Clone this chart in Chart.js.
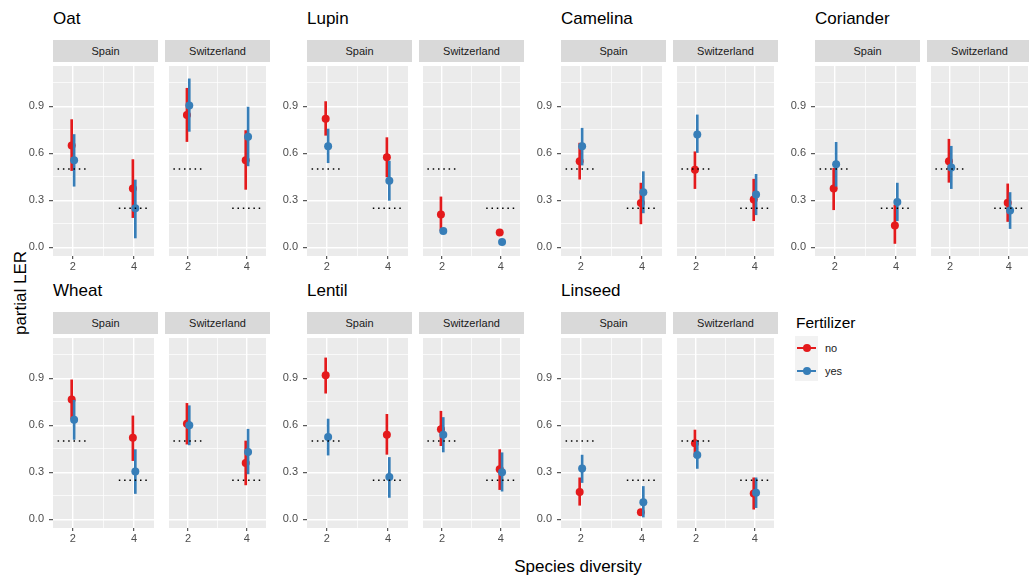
<!DOCTYPE html>
<html>
<head>
<meta charset="utf-8">
<script src="https://cdn.jsdelivr.net/npm/chart.js@4.4.1/dist/chart.umd.min.js"></script>
<style>
  body { margin: 0; background: #fff; font-family: "Liberation Sans", Arial, sans-serif; }
  #fig { position: relative; width: 1029px; height: 576px; overflow: hidden; background: #fff; }
  #fig canvas { position: absolute; }
  .title { position: absolute; font-size: 17px; line-height: 20px; color: #000; }
  .strip { position: absolute; height: 22px; line-height: 22px; background: #d9d9d9;
           color: #1a1a1a; font-size: 11px; text-align: center; }
  .axis-title { position: absolute; font-size: 17px; color: #000; white-space: nowrap; }
  #ytitle { left: 21px; top: 293px; transform: translate(-50%, -50%) rotate(-90deg); }
  #xtitle { left: 578px; top: 567px; transform: translate(-50%, -50%); }
  #legend-title { position: absolute; left: 796px; top: 313px; font-size: 15.5px; line-height: 20px; }
  #legend-keys { position: absolute; left: 795px; top: 336px; width: 23px; height: 45px; background: #f2f2f2; }
  .key-line { position: absolute; left: 2px; width: 19px; height: 2px; }
  .key-dot { position: absolute; left: 8px; width: 8px; height: 8px; border-radius: 50%; }
  .key-label { position: absolute; left: 825px; font-size: 11px; line-height: 14px; color: #1a1a1a; }
</style>
</head>
<body>
<div id="fig">
  <div class="axis-title" id="ytitle">partial LER</div>
  <div class="axis-title" id="xtitle">Species diversity</div>
  <div id="legend-title">Fertilizer</div>
  <div id="legend-keys"></div>
</div>
<script>
const crops = ['Oat', 'Lupin', 'Camelina', 'Coriander', 'Wheat', 'Lentil', 'Linseed'];
const countries = ['Spain', 'Switzerland'];
const diversity = [2, 4];
const expectedLER = [0.5, 0.25]; // dotted reference line for each diversity level
const fertilizer = ['no', 'yes'];

// per crop: [Spain 2, Spain 4, Switzerland 2, Switzerland 4]
const noMean = [
  [0.65, 0.375, 0.845, 0.555],
  [0.82, 0.575, 0.21, 0.095],
  [0.55, 0.283, 0.495, 0.305],
  [0.375, 0.14, 0.55, 0.285],
  [0.765, 0.52, 0.61, 0.36],
  [0.92, 0.54, 0.575, 0.32],
  [0.175, 0.045, 0.485, 0.165]
];
const noLow = [
  [0.49, 0.19, 0.675, 0.37],
  [0.715, 0.45, 0.105, 0.085],
  [0.435, 0.15, 0.375, 0.17],
  [0.24, 0.025, 0.415, 0.165],
  [0.64, 0.375, 0.48, 0.22],
  [0.805, 0.415, 0.47, 0.19],
  [0.09, 0.035, 0.40, 0.065]
];
const noHigh = [
  [0.815, 0.56, 1.015, 0.745],
  [0.93, 0.70, 0.322, 0.105],
  [0.665, 0.41, 0.61, 0.435],
  [0.505, 0.27, 0.69, 0.405],
  [0.89, 0.66, 0.74, 0.50],
  [1.03, 0.67, 0.69, 0.445],
  [0.265, 0.055, 0.57, 0.265]
];
const yesMean = [
  [0.555, 0.25, 0.905, 0.705],
  [0.645, 0.425, 0.104, 0.035],
  [0.645, 0.352, 0.72, 0.337],
  [0.53, 0.29, 0.51, 0.235],
  [0.635, 0.305, 0.60, 0.43],
  [0.525, 0.27, 0.54, 0.30],
  [0.325, 0.11, 0.41, 0.17]
];
const yesLow = [
  [0.39, 0.06, 0.74, 0.52],
  [0.54, 0.30, 0.095, 0.025],
  [0.525, 0.22, 0.605, 0.208],
  [0.39, 0.17, 0.375, 0.12],
  [0.51, 0.165, 0.475, 0.29],
  [0.41, 0.14, 0.43, 0.18],
  [0.235, 0.015, 0.325, 0.075]
];
const yesHigh = [
  [0.72, 0.43, 1.075, 0.895],
  [0.755, 0.55, 0.115, 0.045],
  [0.76, 0.483, 0.845, 0.466],
  [0.67, 0.41, 0.645, 0.35],
  [0.76, 0.445, 0.725, 0.575],
  [0.64, 0.395, 0.65, 0.425],
  [0.41, 0.21, 0.50, 0.265]
];

const xTicks = [2, 3, 4];
const xLabels = ['2', '', '4'];
const yTicks = [0, 0.15, 0.3, 0.45, 0.6, 0.75, 0.9, 1.05];
const yLabels = ['0.0', '', '0.3', '', '0.6', '', '0.9', ''];

const RED = '#E41A1C';
const BLUE = '#377EB8';

// layout of the facet grid
const colLeft = [53, 307, 561, 815];
const rowTop = [62, 334];
const panelW = 105, panelH = 194, facetStep = 112, stripH = 22;
const yAxisW = 40, xAxisH = 20;
const dodge = 0.04;

const fig = document.getElementById('fig');

const panelBg = {
  id: 'panelBg',
  beforeDraw(chart) {
    const { ctx, chartArea: a } = chart;
    ctx.save();
    ctx.fillStyle = '#EBEBEB';
    ctx.fillRect(a.left, a.top, a.right - a.left, a.bottom - a.top);
    ctx.restore();
  }
};

function addDiv(cls, text, left, top, width) {
  const d = document.createElement('div');
  d.className = cls;
  d.textContent = text;
  d.style.left = left + 'px';
  d.style.top = top + 'px';
  if (width) d.style.width = width + 'px';
  fig.appendChild(d);
  return d;
}

function makeFacet(ci, k, left, top, showY) {
  const canvas = document.createElement('canvas');
  const w = panelW + (showY ? yAxisW : 0);
  const h = panelH + xAxisH;
  canvas.width = w;
  canvas.height = h;
  canvas.style.width = w + 'px';
  canvas.style.height = h + 'px';
  canvas.style.left = (left - (showY ? yAxisW : 0)) + 'px';
  canvas.style.top = top + 'px';
  fig.appendChild(canvas);

  const series = [
    { mean: noMean, low: noLow, high: noHigh, color: RED, shift: -dodge },
    { mean: yesMean, low: yesLow, high: yesHigh, color: BLUE, shift: dodge }
  ];

  const datasets = [];
  diversity.forEach((d, j) => {
    datasets.push({
      type: 'line',
      data: [{ x: d - 0.5, y: expectedLER[j] }, { x: d + 0.5, y: expectedLER[j] }],
      borderColor: '#000',
      borderWidth: 1.4,
      borderDash: [1.5, 3.8],
      pointRadius: 0,
      order: 0
    });
  });
  series.forEach((s, si) => {
    datasets.push({
      type: 'bar',
      label: fertilizer[si],
      data: diversity.map((d, j) => ({ x: d + s.shift, y: [s.low[ci][k * 2 + j], s.high[ci][k * 2 + j]] })),
      backgroundColor: s.color,
      borderWidth: 0,
      barThickness: 2,
      maxBarThickness: 2,
      grouped: false,
      order: 4 - si * 2
    });
    datasets.push({
      type: 'scatter',
      label: fertilizer[si],
      data: diversity.map((d, j) => ({ x: d + s.shift, y: s.mean[ci][k * 2 + j] })),
      pointRadius: 4,
      pointHoverRadius: 4,
      pointBackgroundColor: s.color,
      pointBorderWidth: 0,
      order: 3 - si * 2
    });
  });

  new Chart(canvas, {
    type: 'scatter',
    data: { datasets },
    plugins: [panelBg],
    options: {
      responsive: false,
      animation: false,
      events: [],
      layout: { padding: 0 },
      plugins: { legend: { display: false }, tooltip: { enabled: false } },
      scales: {
        x: {
          type: 'linear',
          min: 1.35,
          max: 4.65,
          offset: false,
          afterBuildTicks: s => { s.ticks = xTicks.map(v => ({ value: v })); },
          afterFit: s => { s.height = xAxisH; s.paddingLeft = 0; s.paddingRight = 0; },
          border: { display: false },
          grid: {
            offset: false,
            color: '#ffffff',
            lineWidth: c => (c.tick && c.tick.value === 3 ? 0.7 : 1.4),
            drawTicks: true,
            tickLength: 3,
            tickWidth: 1,
            tickColor: c => (c.tick && c.tick.value === 3 ? 'rgba(0,0,0,0)' : '#333333')
          },
          ticks: {
            autoSkip: false,
            maxRotation: 0,
            padding: 1,
            color: '#4d4d4d',
            font: { family: '"Liberation Sans", Arial, sans-serif', size: 11 },
            callback: (v, i) => xLabels[i]
          }
        },
        y: {
          type: 'linear',
          min: -0.055,
          max: 1.157,
          afterBuildTicks: s => { s.ticks = yTicks.map(v => ({ value: v })); },
          afterFit: s => { s.width = showY ? yAxisW : 0; s.paddingTop = 0; s.paddingBottom = 0; },
          border: { display: false },
          grid: {
            color: '#ffffff',
            lineWidth: c => (c.index % 2 === 1 ? 0.7 : 1.4),
            drawTicks: showY,
            tickLength: 4,
            tickWidth: 1,
            tickColor: c => (c.index % 2 === 1 ? 'rgba(0,0,0,0)' : '#333333')
          },
          ticks: {
            display: showY,
            padding: 5,
            color: '#4d4d4d',
            font: { family: '"Liberation Sans", Arial, sans-serif', size: 11 },
            callback: (v, i) => yLabels[i]
          }
        }
      }
    }
  });
}

crops.forEach((crop, ci) => {
  const row = ci < 4 ? 0 : 1;
  const col = ci < 4 ? ci : ci - 4;
  const top = rowTop[row];
  addDiv('title', crop, colLeft[col], top - stripH - 31);
  countries.forEach((country, k) => {
    const left = colLeft[col] + k * facetStep;
    addDiv('strip', country, left, top - stripH, panelW);
    makeFacet(ci, k, left, top, k === 0);
  });
});

// legend
const keys = document.getElementById('legend-keys');
[RED, BLUE].forEach((c, i) => {
  const cy = 12 + i * 22.5;
  const line = document.createElement('div');
  line.className = 'key-line';
  line.style.background = c;
  line.style.top = (cy - 1) + 'px';
  keys.appendChild(line);
  const dot = document.createElement('div');
  dot.className = 'key-dot';
  dot.style.background = c;
  dot.style.top = (cy - 4) + 'px';
  keys.appendChild(dot);
  addDiv('key-label', fertilizer[i], 825, 336 + cy - 7);
});
</script>
</body>
</html>
